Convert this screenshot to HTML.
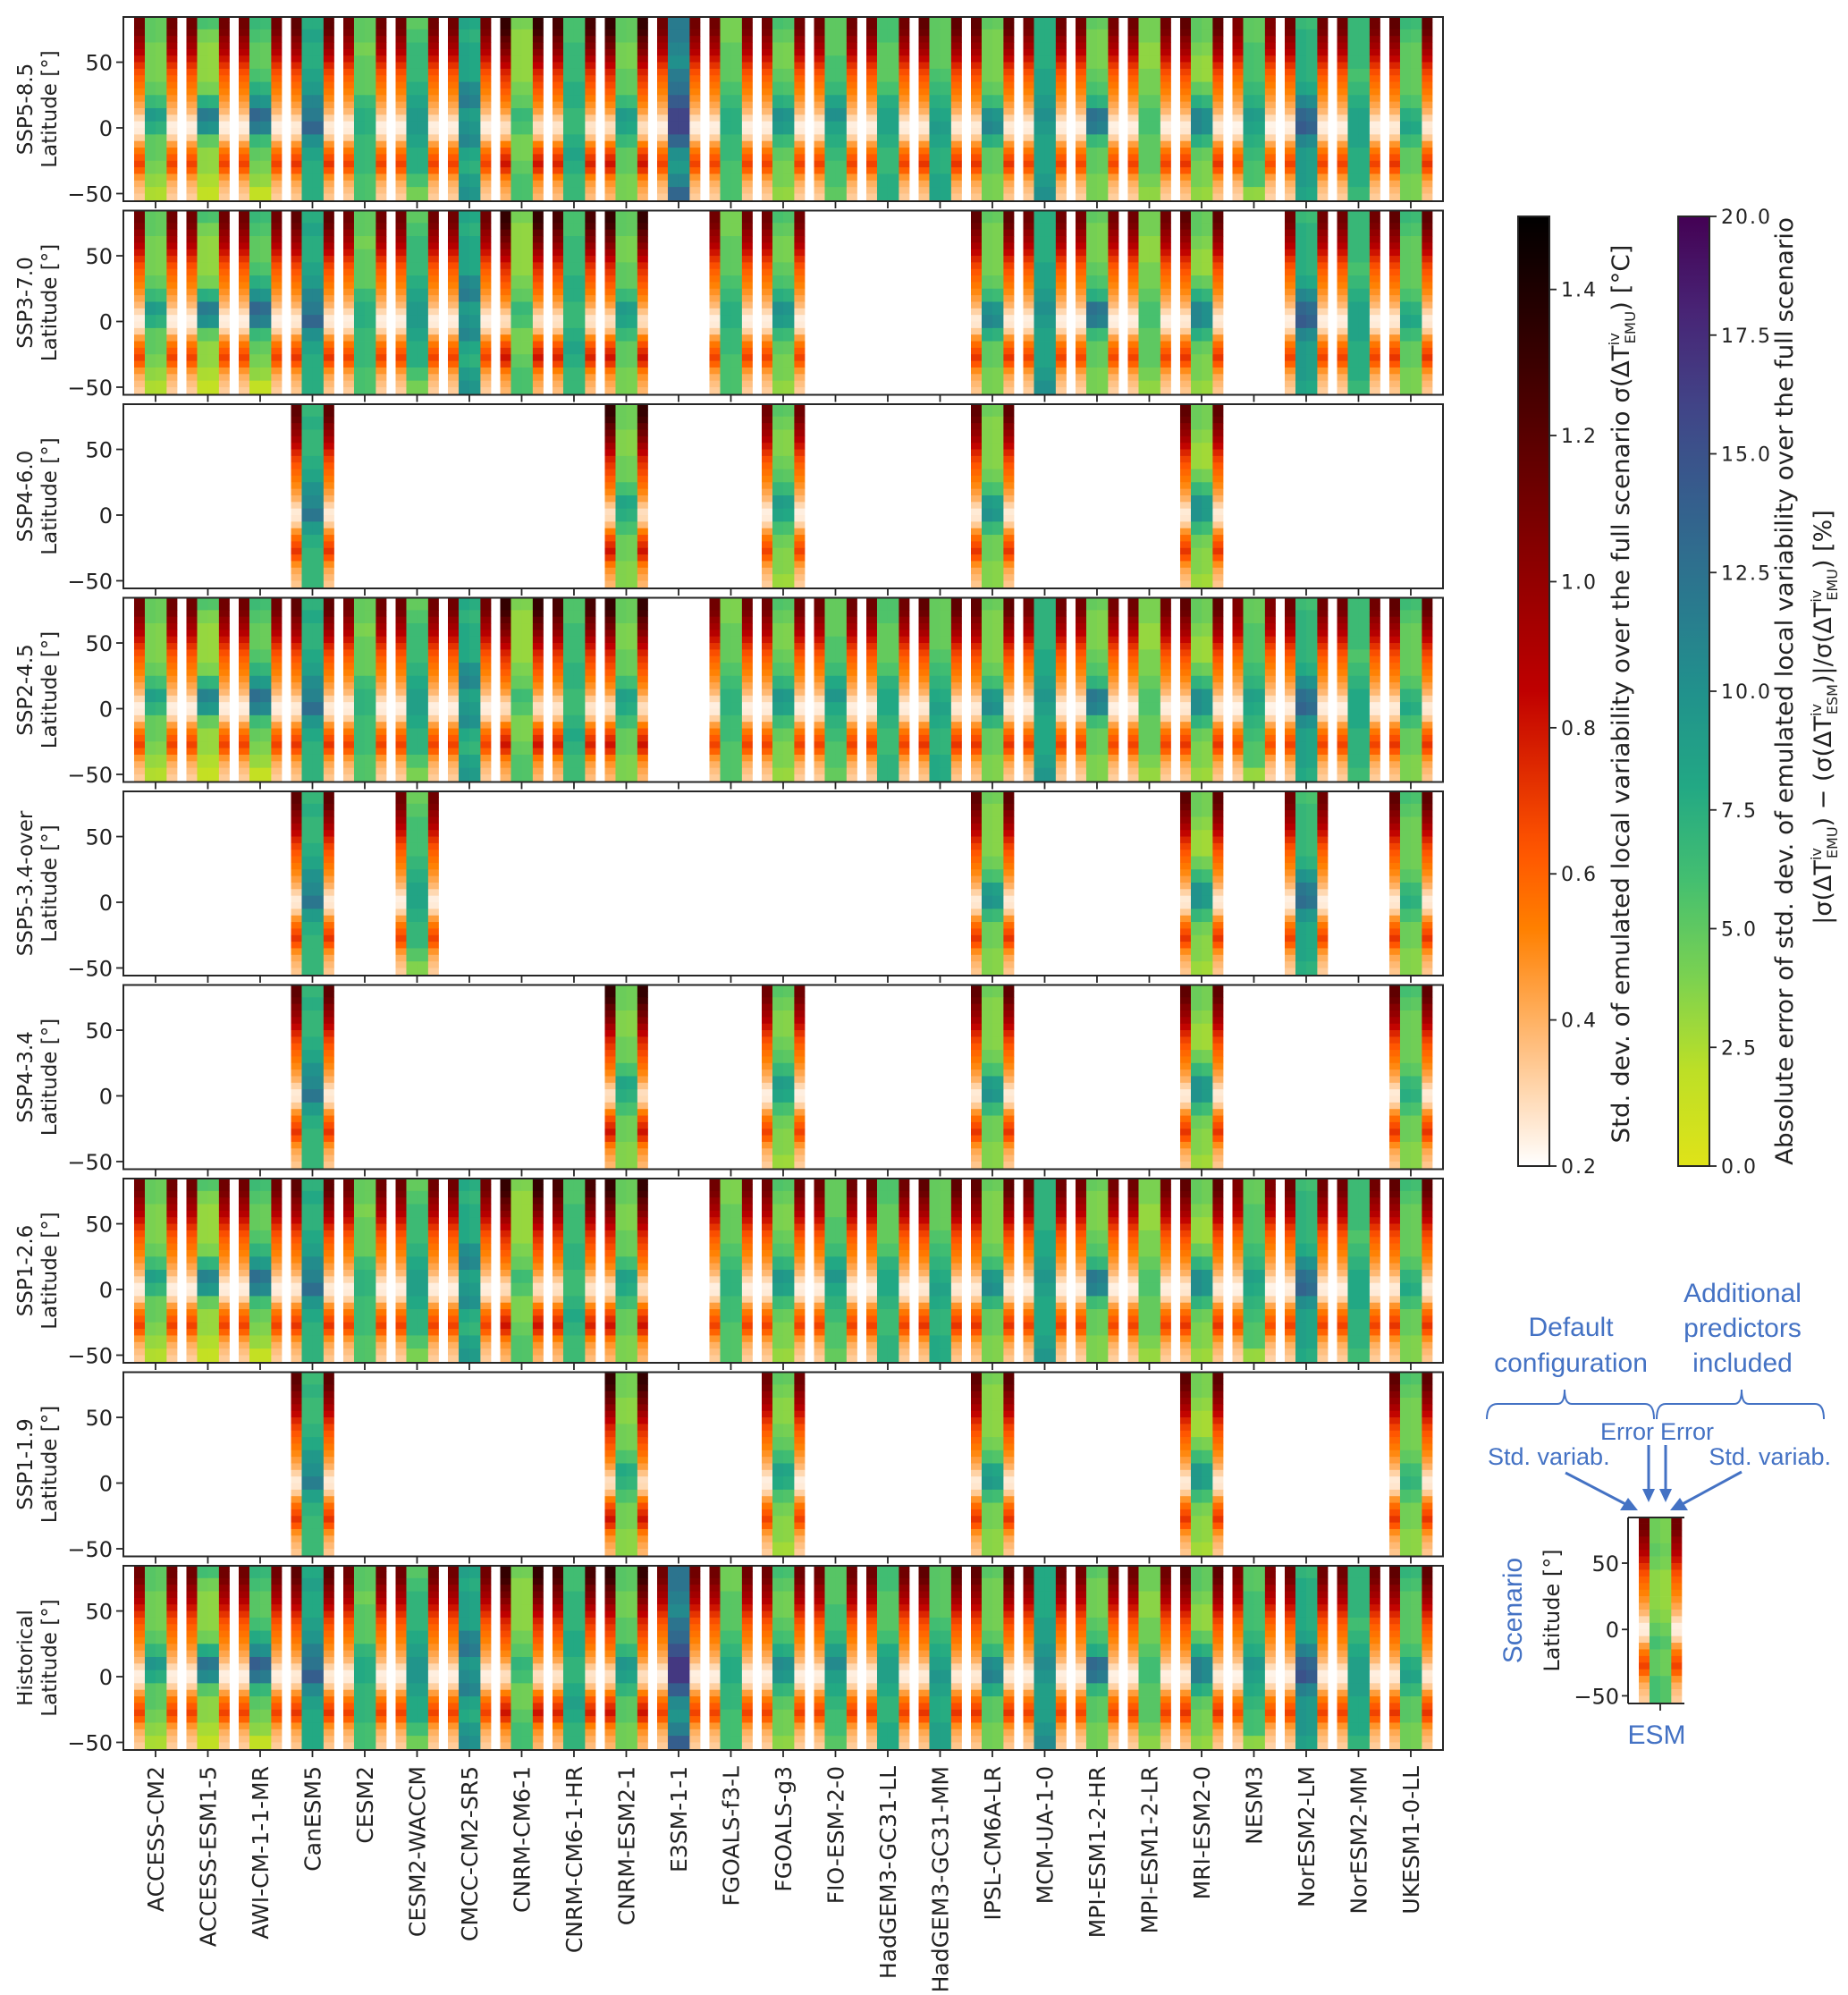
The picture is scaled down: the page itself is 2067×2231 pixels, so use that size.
<!DOCTYPE html>
<html><head><meta charset="utf-8"><style>
html,body{margin:0;padding:0;background:#fff;}
svg{display:block;}
text{font-family:"DejaVu Sans","Liberation Sans",sans-serif;}
.leg{font-family:"Liberation Sans","DejaVu Sans",sans-serif;fill:#4472c4;}
</style></head><body>
<svg id="fig" xmlns="http://www.w3.org/2000/svg" width="2067" height="2231" viewBox="0 0 2067 2231">
<defs>
<linearGradient id="gStd" x1="0" y1="1" x2="0" y2="0"></linearGradient>
<linearGradient id="gErr" x1="0" y1="1" x2="0" y2="0"></linearGradient>
</defs>
<g id="panels"></g>
<g id="xlabels"></g>
<g id="cbars"></g>
<g id="legend"></g>
</svg>
<script>
const NS="http://www.w3.org/2000/svg";
const models=["ACCESS-CM2","ACCESS-ESM1-5","AWI-CM-1-1-MR","CanESM5","CESM2","CESM2-WACCM","CMCC-CM2-SR5","CNRM-CM6-1","CNRM-CM6-1-HR","CNRM-ESM2-1","E3SM-1-1","FGOALS-f3-L","FGOALS-g3","FIO-ESM-2-0","HadGEM3-GC31-LL","HadGEM3-GC31-MM","IPSL-CM6A-LR","MCM-UA-1-0","MPI-ESM1-2-HR","MPI-ESM1-2-LR","MRI-ESM2-0","NESM3","NorESM2-LM","NorESM2-MM","UKESM1-0-LL"];
const scenarios=["SSP5-8.5","SSP3-7.0","SSP4-6.0","SSP2-4.5","SSP5-3.4-over","SSP4-3.4","SSP1-2.6","SSP1-1.9","Historical"];
const presence=[
 [0,1,2,3,4,5,6,7,8,9,10,11,12,13,14,15,16,17,18,19,20,21,22,23,24],
 [0,1,2,3,4,5,6,7,8,9,11,12,16,17,18,19,20,22,23,24],
 [3,9,12,16,20],
 [0,1,2,3,4,5,6,7,8,9,11,12,13,14,15,16,17,18,19,20,21,22,23,24],
 [3,5,16,20,22,24],
 [3,9,12,16,20,24],
 [0,1,2,3,4,5,6,7,8,9,11,12,13,14,15,16,17,18,19,20,21,22,23,24],
 [3,9,12,16,20,24],
 [0,1,2,3,4,5,6,7,8,9,10,11,12,13,14,15,16,17,18,19,20,21,22,23,24]
];
// std profile, 5-degree bands from 85N to 55S
const stdBandTop=[85,80,75,70,65,60,55,50,45,40,35,30,25,20,15,10,5,0,-5,-10,-15,-20,-25,-30,-35,-40,-45,-50];
const stdProfile=[1.12,1.12,1.08,1.0,0.95,0.88,0.8,0.72,0.65,0.6,0.56,0.52,0.48,0.43,0.38,0.3,0.24,0.25,0.32,0.45,0.55,0.62,0.68,0.6,0.47,0.4,0.36,0.33];
const stdScale=[1.0,1.0,1.0,1.05,1.0,1.0,1.0,1.18,1.12,1.18,1.0,1.0,1.0,1.0,1.0,1.05,1.05,1.0,0.98,1.0,1.05,0.95,1.0,1.0,1.05];
// error, 10-degree bands from 85N to 55S
const errBandTop=[85,75,65,55,45,35,25,15,5,-5,-15,-25,-35,-45];
const errByModel=[
 [6,6,5,5,5,6,8,11,9,6,6,5,4,3],
 [7,5,4,4,4,5,9,14,12,6,4,4,3,2],
 [8,7,6,6,7,9,12,16,14,8,6,5,4,2],
 [9,10,9,9,10,11,13,14,16,12,10,9,9,9],
 [6,6,5,6,6,6,8,9,9,8,8,8,7,7],
 [6,7,8,8,8,9,10,11,11,10,9,9,7,5],
 [10,9,10,10,10,13,14,11,12,13,10,9,11,12],
 [5,4,4,4,4,5,6,8,7,5,5,6,7,7],
 [7,7,8,8,8,9,9,8,8,9,10,9,8,8],
 [6,6,5,5,6,6,8,11,10,8,6,6,5,5],
 [14,14,13,12,14,15,17,19,19,16,12,11,13,16],
 [5,5,6,6,6,7,8,9,9,8,8,7,7,7],
 [7,6,5,5,6,7,9,12,11,8,6,5,5,4],
 [6,6,6,7,7,8,10,12,10,9,8,7,7,6],
 [7,7,6,6,6,7,9,10,10,9,8,8,9,9],
 [6,6,6,6,7,8,9,10,11,10,9,9,10,10],
 [6,5,5,5,5,6,8,12,13,9,6,6,5,5],
 [9,9,9,9,10,10,11,12,11,10,10,10,11,12],
 [6,5,5,5,6,7,9,15,14,8,6,6,5,5],
 [5,5,4,4,5,5,6,7,7,6,6,6,5,4],
 [6,6,5,4,4,6,9,13,13,9,6,5,5,4],
 [6,6,7,7,7,8,9,11,10,9,8,7,7,4],
 [8,9,9,9,9,10,13,16,17,13,11,11,11,10],
 [8,8,8,8,7,8,9,10,10,10,9,9,9,8],
 [8,7,6,6,6,6,7,9,10,8,6,6,5,5]
];
const addPredScale=[0.95,0.97,0.95,1.0,0.97,1.0,0.95,0.98,1.0,0.96,1.0,0.98,0.96,1.0,1.0,0.97,0.95,1.0,0.95,1.0,0.92,0.97,0.95,1.0,0.95];
const scenErrScale=[0.84,0.84,0.76,0.8,0.76,0.76,0.8,0.72,0.88];
const latTicks=[50,0,-50];
const stdTicks=[0.2,0.4,0.6,0.8,1.0,1.2,1.4];
const errTicks=[0,2.5,5,7.5,10,12.5,15,17.5,20];
const miniErr=[4.5,4.5,5,4.5,3.5,3.5,3.5,4,5,6,5,5,6,6];

// geometry
const PX0=138,PX1=1614,U0=-0.615,UNIT=58.5,PH=206,PT0=19,PP=216.5,LATTOP=84.4,LATRANGE=140.2;
const xs=u=>PX0+(u-U0)*UNIT;
const ys=(T,lat,H)=>T+(LATTOP-lat)/LATRANGE*(H||PH);
function clamp(v){return Math.max(0,Math.min(1,v));}
function hex(r,g,b){return "#"+[r,g,b].map(c=>Math.round(clamp(c)*255).toString(16).padStart(2,"0")).join("");}
function stdColor(v){const n=clamp((v-0.2)/1.3),x=1-n;return hex(1.5*x,2*x-1,4*x-3);}
const vir=[[68,1,84],[72,36,117],[65,68,135],[53,95,141],[42,120,142],[33,145,140],[34,168,132],[68,191,112],[122,209,81],[189,223,38],[223,227,24]];
function errColor(v){let t=1-clamp(v/20);t*=10;const i=Math.min(9,Math.floor(t)),f=t-i;const a=vir[i],b=vir[i+1];return hex((a[0]+(b[0]-a[0])*f)/255,(a[1]+(b[1]-a[1])*f)/255,(a[2]+(b[2]-a[2])*f)/255);}
function el(tag,attrs,parent){const e=document.createElementNS(NS,tag);for(const k in attrs)e.setAttribute(k,attrs[k]);parent.appendChild(e);return e;}

const panels=document.getElementById("panels");
const defs=document.querySelector("defs");
scenarios.forEach((sc,k)=>{
 const T=PT0+PP*k;
 const g=el("g",{},panels);
 
 
 const cp=el("clipPath",{id:"cp"+k},defs);
 el("rect",{x:PX0,y:T,width:PX1-PX0,height:PH},cp);
 const cells=el("g",{"clip-path":"url(#cp"+k+")"},g);
 
 
 presence[k].forEach(m=>{
  const u=m;
  stdBandTop.forEach((lt,b)=>{
   const c=stdColor(stdProfile[b]*stdScale[m]);
   const y0=ys(T,lt),y1=ys(T,lt-5);
   [[u-0.41,u-0.205],[u+0.205,u+0.41]].forEach(s=>{
    const r=el("rect",{x:xs(s[0]),y:y0,width:xs(s[1])-xs(s[0])+0.4,height:y1-y0+0.4,fill:c},cells);
    
    
   });
  });
  errBandTop.forEach((lt,b)=>{
   const e1=errByModel[m][b]*scenErrScale[k];
   const e2=e1*addPredScale[m];
   const y0=ys(T,lt),y1=ys(T,lt-10);
   [[u-0.205,u,e1],[u,u+0.205,e2]].forEach(s=>{
    const r=el("rect",{x:xs(s[0]),y:y0,width:xs(s[1])-xs(s[0])+0.4,height:y1-y0+0.4,fill:errColor(s[2])},cells);
    
    
   });
  });
 });
 const fr=el("rect",{x:PX0,y:T,width:PX1-PX0,height:PH,fill:"none",stroke:"#262626","stroke-width":2},g);
 
 
 latTicks.forEach(l=>{
  const y=ys(T,l);
  el("line",{x1:PX0-8,x2:PX0,y1:y,y2:y,stroke:"#262626","stroke-width":1.8},g);
  const t=el("text",{x:PX0-12,y:y+9,"font-size":24,"text-anchor":"end",fill:"#222"},g);
  t.textContent=l<0?"\u2212"+(-l):String(l);
  
  
 });
 models.forEach((mn,m)=>{el("line",{x1:xs(m),x2:xs(m),y1:T+PH,y2:T+PH+8,stroke:"#262626","stroke-width":1.8},g);});
 const cy=T+PH/2;
 const t1=el("text",{x:0,y:0,"font-size":23,"text-anchor":"middle",fill:"#222",transform:`translate(36,${cy}) rotate(-90)`},g);
 t1.textContent=sc;
 
 
 const t2=el("text",{x:0,y:0,"font-size":23,"text-anchor":"middle",fill:"#222",transform:`translate(63,${cy}) rotate(-90)`},g);
 t2.textContent="Latitude [\u00b0]";
 
 
});
const xl=document.getElementById("xlabels");
models.forEach((mn,m)=>{
 const t=el("text",{x:0,y:0,"font-size":25,"text-anchor":"end",fill:"#222",transform:`translate(${xs(m)+9},1975) rotate(-90)`},xl);
 t.textContent=mn;
 
 
});
// colorbars
const gs=document.getElementById("gStd"),ge=document.getElementById("gErr");
for(let i=0;i<=40;i++){const f=i/40;
 el("stop",{offset:f,"stop-color":stdColor(0.2+1.3*f)},gs);
 el("stop",{offset:f,"stop-color":errColor(20*f)},ge);}
const cb=document.getElementById("cbars");
const CBT=242,CBB=1304;
function cbar(x,fill,ticks,vmin,vmax,fmt,name){
 const g=el("g",{},cb);
 
 
 el("rect",{x:x,y:CBT,width:35,height:CBB-CBT,fill:fill,stroke:"#262626","stroke-width":2},g);
 ticks.forEach(v=>{const y=CBB-(v-vmin)/(vmax-vmin)*(CBB-CBT);
  el("line",{x1:x+35,x2:x+43,y1:y,y2:y,stroke:"#262626","stroke-width":1.8},g);
  const t=el("text",{x:x+48,y:y+8,"font-size":22,fill:"#222","letter-spacing":"2"},g);
  t.textContent=fmt(v);
  
  });
}
cbar(1698,"url(#gStd)",stdTicks,0.2,1.5,v=>v.toFixed(1),"std-colorbar");
cbar(1877,"url(#gErr)",errTicks,0,20,v=>v.toFixed(1),"error-colorbar");
</script>
<script>
(function(){
const NS="http://www.w3.org/2000/svg";
const cb=document.getElementById("cbars");
function mk(html,name){const g=document.createElementNS(NS,"g");g.innerHTML=html;cb.appendChild(g);
 
 }
mk(`<text transform="translate(1822,776) rotate(-90)" text-anchor="middle" font-size="27" fill="#222" textLength="1005" lengthAdjust="spacingAndGlyphs">Std. dev. of emulated local variability over the full scenario σ(ΔT<tspan font-size="16" dy="-11">iv</tspan><tspan font-size="16" dx="-12" dy="18">EMU</tspan><tspan dy="-7">) [°C]</tspan></text>`,"std-colorbar-label");
mk(`<text transform="translate(2005,773) rotate(-90)" text-anchor="middle" font-size="27" fill="#222" textLength="1060" lengthAdjust="spacingAndGlyphs">Absolute error of std. dev. of emulated local variability over the full scenario</text>
<text transform="translate(2048,802) rotate(-90)" text-anchor="middle" font-size="27" fill="#222">|σ(ΔT<tspan font-size="16" dy="-11">iv</tspan><tspan font-size="16" dx="-12" dy="18">EMU</tspan><tspan dy="-7">) − (σ(ΔT</tspan><tspan font-size="16" dy="-11">iv</tspan><tspan font-size="16" dx="-12" dy="18">ESM</tspan><tspan dy="-7">)|/σ(ΔT</tspan><tspan font-size="16" dy="-11">iv</tspan><tspan font-size="16" dx="-12" dy="18">EMU</tspan><tspan dy="-7">) [%]</tspan></text>`,"error-colorbar-label");
})();
// legend inset
(function(){
const NS="http://www.w3.org/2000/svg";
const lg=document.getElementById("legend");
const B="#4472c4";
let h=`
<text class="leg" x="1757" y="1494" font-size="30" text-anchor="middle">Default</text>
<text class="leg" x="1757" y="1534" font-size="30" text-anchor="middle">configuration</text>
<text class="leg" x="1949" y="1456" font-size="30" text-anchor="middle">Additional</text>
<text class="leg" x="1949" y="1495" font-size="30" text-anchor="middle">predictors</text>
<text class="leg" x="1949" y="1534" font-size="30" text-anchor="middle">included</text>
<path d="M1663,1587 Q1663,1570 1675,1570 L1742,1570 Q1750,1570 1750,1554 Q1750,1570 1758,1570 L1840,1570 Q1850,1570 1850,1587" fill="none" stroke="${B}" stroke-width="2"/>
<path d="M1853,1587 Q1853,1570 1863,1570 L1940,1570 Q1948,1570 1948,1554 Q1948,1570 1956,1570 L2030,1570 Q2040,1570 2040,1587" fill="none" stroke="${B}" stroke-width="2"/>
<text class="leg" x="1850" y="1610" font-size="27" text-anchor="end">Error</text>
<text class="leg" x="1857" y="1610" font-size="27">Error</text>
<text class="leg" x="1664" y="1638" font-size="27">Std. variab.</text>
<text class="leg" x="2048" y="1638" font-size="27" text-anchor="end">Std. variab.</text>
<line x1="1751" y1="1647" x2="1822" y2="1684" stroke="${B}" stroke-width="3"/>
<polygon points="1832,1689 1812,1689 1821,1675" fill="${B}"/>
<line x1="1844" y1="1616" x2="1844" y2="1668" stroke="${B}" stroke-width="3"/>
<polygon points="1837,1665 1851,1665 1844,1680" fill="${B}"/>
<line x1="1863" y1="1616" x2="1863" y2="1668" stroke="${B}" stroke-width="3"/>
<polygon points="1856,1665 1870,1665 1863,1680" fill="${B}"/>
<line x1="1948" y1="1646" x2="1878" y2="1684" stroke="${B}" stroke-width="3"/>
<polygon points="1868,1689 1888,1689 1879,1675" fill="${B}"/>
<text class="leg" transform="translate(1702,1801) rotate(-90)" font-size="30" text-anchor="middle">Scenario</text>
<text transform="translate(1744,1801) rotate(-90)" font-size="24" text-anchor="middle" fill="#222">Latitude [°]</text>
<text class="leg" x="1853" y="1950" font-size="30" text-anchor="middle">ESM</text>`;
const g=document.createElementNS(NS,"g");g.innerHTML=h;lg.appendChild(g);


})();
// mini panel
(function(){
const NS="http://www.w3.org/2000/svg";
const lg=document.getElementById("legend");
const g=document.createElementNS(NS,"g");lg.appendChild(g);


const T=1697,H=208,X0=1821,X1=1884;
const my=lat=>T+(LATTOP-lat)/LATRANGE*H;
function r(x0,x1,y0,y1,c){const e=document.createElementNS(NS,"rect");e.setAttribute("x",x0);e.setAttribute("y",y0);e.setAttribute("width",x1-x0+0.3);e.setAttribute("height",Math.max(0,Math.min(y1,T+H)-y0)+0.3);e.setAttribute("fill",c);g.appendChild(e);
 
 }
stdBandTop.forEach((lt,b)=>{const y0=Math.max(T,my(lt)),y1=my(lt-5);const c=stdColor(stdProfile[b]);r(1833,1845,y0,y1,c);r(1869,1881,y0,y1,c);});
errBandTop.forEach((lt,b)=>{const y0=Math.max(T,my(lt)),y1=my(lt-10);r(1845,1857,y0,y1,errColor(miniErr[b]));r(1857,1869,y0,y1,errColor(miniErr[b]*0.9));});
let s=`<line x1="${X0}" y1="${T}" x2="${X0}" y2="${T+H}" stroke="#262626" stroke-width="2"/>
<line x1="${X0}" y1="${T+H}" x2="${X1}" y2="${T+H}" stroke="#262626" stroke-width="2"/>
<line x1="${X0}" y1="${T}" x2="${X1}" y2="${T}" stroke="#262626" stroke-width="2"/>
<line x1="1857" y1="${T+H}" x2="1857" y2="${T+H+8}" stroke="#262626" stroke-width="1.8"/>`;
latTicks.forEach(l=>{const y=my(l);s+=`<line x1="${X0-7}" x2="${X0}" y1="${y}" y2="${y}" stroke="#262626" stroke-width="1.8"/><text x="${X0-10}" y="${y+9}" font-size="24" text-anchor="end" fill="#222">${l<0?"\u2212"+(-l):l}</text>`;});
const g2=document.createElementNS(NS,"g");g2.innerHTML=s;g.appendChild(g2);


})();
</script>
</body></html>
